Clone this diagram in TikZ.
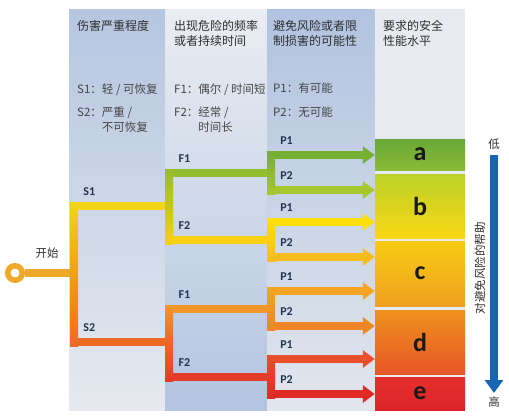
\documentclass[tikz,border=0pt]{standalone}
\usepackage{fontspec}
\setmainfont{Noto Sans CJK SC}
\newfontfamily\calib{Carlito}
\usetikzlibrary{arrows.meta,positioning}

% backgrounds
\definecolor{sevtop}{HTML}{B5C6E0}
\definecolor{sevbot}{HTML}{E6E9EF}
\definecolor{fretop}{HTML}{EAEDF2}
\definecolor{frebot}{HTML}{B2C4E0}
\definecolor{postop}{HTML}{B1C3DF}
\definecolor{posbot}{HTML}{E2E6ED}
\definecolor{plbg}{HTML}{E7EAEF}
% routes
\definecolor{cstart}{HTML}{F0A82A}
\definecolor{cs1}{HTML}{F2D41A}
\definecolor{cs2}{HTML}{EC6A24}
\definecolor{cf1}{HTML}{94BD2C}
\definecolor{cf2}{HTML}{F9D012}
\definecolor{cf3}{HTML}{F2962A}
\definecolor{cf4}{HTML}{E43A28}
\definecolor{ca1}{HTML}{76AF32}
\definecolor{ca2}{HTML}{A6C72E}
\definecolor{ca3}{HTML}{FCDF0C}
\definecolor{ca4}{HTML}{F6BC1E}
\definecolor{ca5}{HTML}{F5A424}
\definecolor{ca6}{HTML}{EE8626}
\definecolor{ca7}{HTML}{E8502C}
\definecolor{ca8}{HTML}{E02A26}
% levels
\definecolor{lva1}{HTML}{68A636}
\definecolor{lva2}{HTML}{88BC36}
\definecolor{lvb1}{HTML}{BCD22A}
\definecolor{lvb2}{HTML}{F4E412}
\definecolor{lvb3}{HTML}{F9D614}
\definecolor{lvc1}{HTML}{F8CC14}
\definecolor{lvc2}{HTML}{F0A022}
\definecolor{lvd1}{HTML}{F0921F}
\definecolor{lvd2}{HTML}{E65526}
\definecolor{lve1}{HTML}{E4302C}
\definecolor{lve2}{HTML}{DC2428}
% texts
\definecolor{headc}{HTML}{2E2E2E}
\definecolor{legc}{HTML}{454545}
\definecolor{tagc}{HTML}{243350}
\definecolor{helpc}{HTML}{1A64B4}

\tikzstyle{head} = [anchor=north west,inner sep=0,align=left,text=headc,font=\fontsize{12}{15}\selectfont]
\tikzstyle{legend} = [anchor=north west,inner sep=0,align=left,text=legc,font=\fontsize{11.5}{15}\selectfont]
\tikzstyle{note} = [inner sep=0,text=headc,font=\fontsize{11.5}{14}\selectfont]
\tikzstyle{tag} = [above=6.5pt,inner sep=0,text=tagc,font=\calib\bfseries\fontsize{12}{14}\selectfont]
\tikzstyle{level} = [minimum width=90pt,inner sep=0,text=black!90,font=\calib\bfseries\fontsize{26}{26}\selectfont]
\tikzstyle{route} = [line width=8pt]
\tikzstyle{arrowline} = [line width=8pt,-{Triangle[width=17pt,length=12pt]}]
\tikzstyle{startring} = [circle,draw=cstart,line width=5.5pt,fill=white,minimum size=14.5pt,inner sep=0]

\begin{document}
\begin{tikzpicture}[x=1pt,y=-1pt]
  \useasboundingbox (0,0) rectangle (509,416);

  %columns
  \shade[top color=sevtop,bottom color=sevbot] (69,9) rectangle (165,410);
  \shade[top color=fretop,bottom color=frebot] (165,9) rectangle (267,410);
  \shade[top color=postop,bottom color=posbot] (267,9) rectangle (375,410);
  \fill[plbg] (375,9) rectangle (465,410);

  %headings
  \node[head] (hsev) at (77,20) {伤害严重程度};
  \node[head] (hfre) at (174,20) {出现危险的频率\\或者持续时间};
  \node[head] (hpos) at (273,20) {避免风险或者限\\制损害的可能性};
  \node[head] (hpl) at (383,20) {要求的安全\\性能水平};

  %legends
  \node[legend] (ls1) at (77,84) {S1：轻 / 可恢复};
  \node[legend] (ls2) at (77,107) {S2：严重 /\\\phantom{S2：}不可恢复};
  \node[legend] (lf1) at (174,84) {F1：偶尔 / 时间短};
  \node[legend] (lf2) at (174,107) {F2：经常 /\\\phantom{F2：}时间长};
  \node[legend] (lp1) at (273,83) {P1：有可能};
  \node[legend] (lp2) at (273,107) {P2：无可能};

  %levels
  \node[level,minimum height=31pt,top color=lva1,bottom color=lva2] (lva) at (420,154.5) {a};
  \node[level,minimum height=64pt,top color=lvb1,middle color=lvb2,bottom color=lvb3] (lvb) at (420,206) {b};
  \node[level,minimum height=65pt,top color=lvc1,bottom color=lvc2] (lvc) at (420,273.5) {c};
  \node[level,minimum height=64pt,top color=lvd1,bottom color=lvd2] (lvd) at (420,342) {d};
  \node[level,minimum height=33pt,top color=lve1,bottom color=lve2] (lve) at (420,393.5) {e};

  %help arrow
  \coordinate (lo) at (494,155);
  \coordinate (hi) at (494,393);
  \node[note,above=5pt of lo] (low) {低};
  \node[note,below=4pt of hi] (high) {高};
  \draw[line width=8pt,helpc,-{Triangle[width=18pt,length=13pt]}] (lo) -- (hi);
  \node[note,rotate=90] (help) at (480,268) {对避免风险的帮助};

  %junctions
  \node[startring] (start) at (15,273) {};
  \coordinate (trunk) at (74,273);
  \coordinate (s1) at (74,206);
  \coordinate (s2) at (74,342);
  \coordinate (f11) at (169,173);
  \coordinate (f12) at (169,240);
  \coordinate (f21) at (169,309);
  \coordinate (f22) at (169,377);
  \coordinate (p111) at (271,155);
  \coordinate (p112) at (271,190);
  \coordinate (p121) at (271,222);
  \coordinate (p122) at (271,257);
  \coordinate (p211) at (271,291);
  \coordinate (p212) at (271,326);
  \coordinate (p221) at (271,359);
  \coordinate (p222) at (271,394);

  %start and S
  \draw[route,cstart] (start) -- node[note,above=11pt,pos=0.45] (begin) {开始} (trunk);
  \draw[route,cs1] (s1) -- node[tag,pos=0.16] {S1} (s1 -| f11);
  \draw[route,cs2] (s2) -- node[tag,pos=0.16] {S2} (s2 -| f21);

  %F
  \draw[route,cf1] (f11) -- node[tag,pos=0.15] {F1} (f11 -| p111);
  \draw[route,cf2] (f12) -- node[tag,pos=0.15] {F2} (f12 -| p121);
  \draw[route,cf3] (f21) -- node[tag,pos=0.15] {F1} (f21 -| p211);
  \draw[route,cf4] (f22) -- node[tag,pos=0.15] {F2} (f22 -| p221);

  %P arrows
  \draw[arrowline,ca1] (p111) -- node[tag,pos=0.15] {P1} (p111 -| lva.west);
  \draw[arrowline,ca2] (p112) -- node[tag,pos=0.15] {P2} (p112 -| lvb.west);
  \draw[arrowline,ca3] (p121) -- node[tag,pos=0.15] {P1} (p121 -| lvb.west);
  \draw[arrowline,ca4] (p122) -- node[tag,pos=0.15] {P2} (p122 -| lvc.west);
  \draw[arrowline,ca5] (p211) -- node[tag,pos=0.15] {P1} (p211 -| lvc.west);
  \draw[arrowline,ca6] (p212) -- node[tag,pos=0.15] {P2} (p212 -| lvd.west);
  \draw[arrowline,ca7] (p221) -- node[tag,pos=0.15] {P1} (p221 -| lvd.west);
  \draw[arrowline,ca8] (p222) -- node[tag,pos=0.15] {P2} (p222 -| lve.west);

  %branches
  \shade[top color=cs1,bottom color=cs2] ([xshift=-4pt,yshift=4pt]s1) rectangle ([xshift=4pt,yshift=-4pt]s2);
  \shade[top color=cf1,bottom color=cf2] ([xshift=-4pt,yshift=4pt]f11) rectangle ([xshift=4pt,yshift=-4pt]f12);
  \shade[top color=cf3,bottom color=cf4] ([xshift=-4pt,yshift=4pt]f21) rectangle ([xshift=4pt,yshift=-4pt]f22);
  \shade[top color=ca1,bottom color=ca2] ([xshift=-4pt,yshift=4pt]p111) rectangle ([xshift=4pt,yshift=-4pt]p112);
  \shade[top color=ca3,bottom color=ca4] ([xshift=-4pt,yshift=4pt]p121) rectangle ([xshift=4pt,yshift=-4pt]p122);
  \shade[top color=ca5,bottom color=ca6] ([xshift=-4pt,yshift=4pt]p211) rectangle ([xshift=4pt,yshift=-4pt]p212);
  \shade[top color=ca7,bottom color=ca8] ([xshift=-4pt,yshift=4pt]p221) rectangle ([xshift=4pt,yshift=-4pt]p222);

\end{tikzpicture}
\end{document}
